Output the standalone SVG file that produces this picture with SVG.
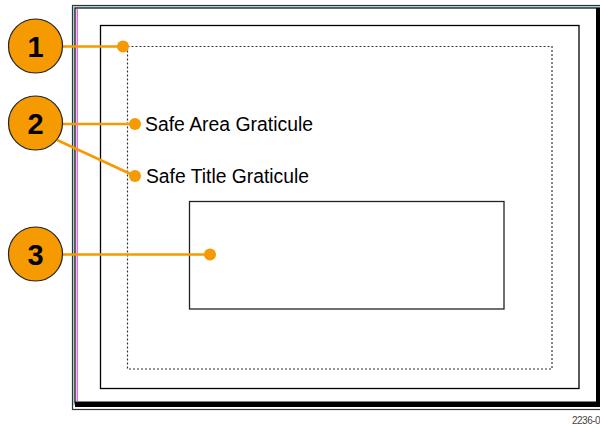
<svg xmlns="http://www.w3.org/2000/svg" width="600" height="428" viewBox="0 0 600 428">
<style>
.lead{stroke:#F59A00;stroke-width:2.5;fill:none}
.dot{fill:#F59A00}
.badge{fill:#F59A00;stroke:#222;stroke-width:1.2}
.num{font-family:"Liberation Sans",Arial,sans-serif;font-weight:bold;font-size:29px;fill:#000;text-anchor:middle}
.lbl{font-family:"Liberation Sans",Arial,sans-serif;font-size:19.5px;fill:#000}
</style>
<rect width="600" height="428" fill="#fff"/>
<g id="frame">
<rect x="72.5" y="5.5" width="530" height="404" fill="none" stroke="#333" stroke-width="1.2"/>
<rect x="73.8" y="6.8" width="530" height="398" fill="none" stroke="#7fc8d8" stroke-width="1"/>
<rect x="75" y="8" width="530" height="395" fill="none" stroke="#000" stroke-width="1.2"/>
<line x1="77.2" y1="9" x2="77.2" y2="401" stroke="#e020e0" stroke-width="1"/>
<rect x="596" y="8" width="4" height="399" fill="#000"/>
<rect x="75" y="401.5" width="525" height="5.5" fill="#000"/>
<rect x="100.5" y="25.5" width="478.5" height="363" fill="none" stroke="#000" stroke-width="1.3"/>
</g>
<g id="safe-area">
<rect x="127.5" y="46.5" width="424.5" height="322.5" fill="none" stroke="#333" stroke-width="1.2" stroke-dasharray="2 2"/>
</g>
<g id="box3">
<rect x="189.5" y="201.5" width="314.5" height="107.5" fill="none" stroke="#222" stroke-width="1.3"/>
</g>
<g id="connectors">
<line class="lead" x1="62" y1="46.5" x2="123" y2="46.5"/>
<circle class="dot" cx="123" cy="46.5" r="6"/>
<line class="lead" x1="62" y1="124" x2="135" y2="124"/>
<circle class="dot" cx="135" cy="124" r="6"/>
<line class="lead" x1="57" y1="140" x2="135" y2="176"/>
<circle class="dot" cx="135" cy="176" r="6"/>
<line class="lead" x1="62" y1="254.5" x2="210" y2="254.5"/>
<circle class="dot" cx="210" cy="254.5" r="6"/>
</g>
<g id="callout-1">
<circle class="badge" cx="35.5" cy="46" r="27"/>
<text class="num" x="35.5" y="56.5">1</text>
</g>
<g id="callout-2">
<circle class="badge" cx="35.5" cy="123" r="27"/>
<text class="num" x="35.5" y="133.5">2</text>
</g>
<g id="callout-3">
<circle class="badge" cx="35.5" cy="254" r="27"/>
<text class="num" x="35.5" y="264.5">3</text>
</g>
<g id="labels">
<text class="lbl" x="145" y="131" textLength="168" lengthAdjust="spacingAndGlyphs">Safe Area Graticule</text>
<text class="lbl" x="146" y="183" textLength="163" lengthAdjust="spacingAndGlyphs">Safe Title Graticule</text>
<text x="572" y="424" font-family="Liberation Sans Narrow,Liberation Sans,Arial,sans-serif" font-size="10" fill="#444" letter-spacing="-0.5">2236-0</text>
</g>
</svg>
